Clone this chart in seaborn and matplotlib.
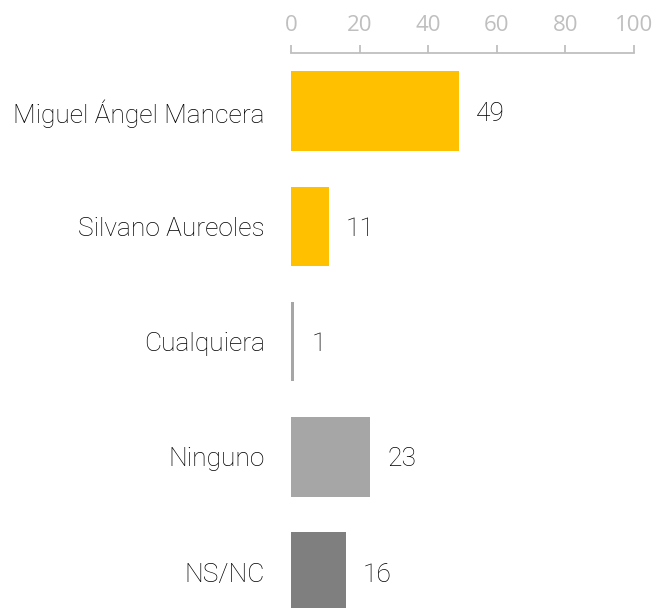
import matplotlib
matplotlib.use("Agg")
import matplotlib.pyplot as plt
import seaborn as sns
import pandas as pd

# ============================
# Data
# ============================

candidates = ["Miguel Ángel Mancera", "Silvano Aureoles", "Cualquiera", "Ninguno", "NS/NC"]
values = [49, 11, 1, 23, 16]
bar_colors = ["#FFC000", "#FFC000", "#A6A6A6", "#A6A6A6", "#7F7F7F"]
x_ticks = [0, 20, 40, 60, 80, 100]


def main():
    sns.set_style("white")
    plt.rcParams['font.family'] = ['Roboto', 'DejaVu Sans']

    df = pd.DataFrame({"candidato": candidates, "valor": values})

    fig = plt.figure(figsize=(6.57, 6.08), dpi=100)
    ax = fig.add_axes([0.443, 0.0, 0.522, 1 - 53 / 608])

    sns.barplot(data=df, x="valor", y="candidato", hue="candidato",
                palette=bar_colors, width=0.69, legend=False, ax=ax,
                saturation=1, edgecolor="none")

    ax.set_xlim(0, 100)
    ax.set_ylim(4.31, -0.503)
    ax.set_xticks(x_ticks)
    ax.xaxis.tick_top()
    ax.tick_params(axis="x", colors="#BFBFBF", length=6, width=1.3,
                   labelsize=16, pad=6, direction="out")
    for lbl in ax.get_xticklabels():
        lbl.set_fontfamily(["Open Sans", "DejaVu Sans"])
        lbl.set_color("#BFBFBF")
    ax.tick_params(axis="y", length=0, pad=19, labelsize=19, labelcolor="#000000")
    for lbl in ax.get_yticklabels():
        lbl.set_fontweight("light")

    for side in ["right", "bottom", "left"]:
        ax.spines[side].set_visible(False)
    ax.spines["top"].set_color("#BFBFBF")
    ax.spines["top"].set_linewidth(1.3)

    ax.set_xlabel("")
    ax.set_ylabel("")

    for i, v in enumerate(values):
        ax.text(v + 5, i, str(v), va="center_baseline", ha="left", fontsize=19,
                fontweight="light", color="#000000")

    fig.savefig("out.png", dpi=100)
    plt.close(fig)


if __name__ == "__main__":
    main()
